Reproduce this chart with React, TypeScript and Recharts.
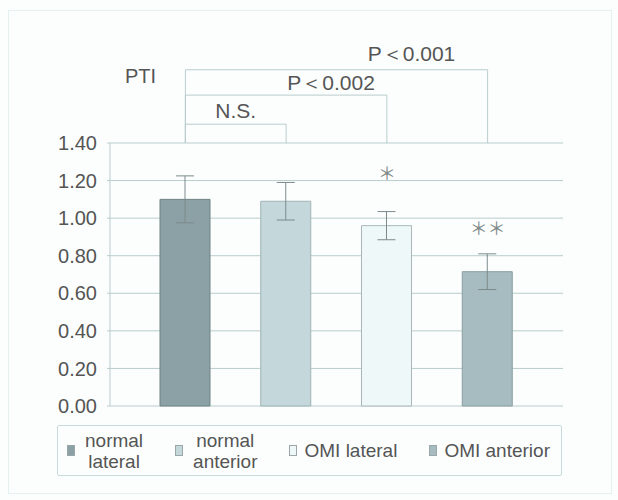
import React from 'react'
import { BarChart, Bar, XAxis, YAxis, CartesianGrid, ErrorBar, Cell, ReferenceLine, ReferenceDot } from 'recharts'

const CATEGORIES = ['normal lateral', 'normal anterior', 'OMI lateral', 'OMI anterior']
const LEGEND_LINES = [['normal', 'lateral'], ['normal', 'anterior'], ['OMI lateral'], ['OMI anterior']]
const PTI = [1.10, 1.09, 0.96, 0.715]
const SD = [0.125, 0.10, 0.075, 0.095]
const Y_TICKS = [0, 0.2, 0.4, 0.6, 0.8, 1.0, 1.2, 1.4]

const BRACKETS = [
  { from: 'normal lateral', to: 'normal anterior', y: 1.5, label: 'N.S.' },
  { from: 'normal lateral', to: 'OMI lateral', y: 1.655, label: 'P＜0.002' },
  { from: 'normal lateral', to: 'OMI anterior', y: 1.79, label: 'P＜0.001' },
]
const STARS = [
  { cat: 'OMI lateral', y: 1.246, text: '＊' },
  { cat: 'OMI anterior', y: 0.953, text: '＊＊' },
]

const FILLS = ['#8ca1a5', '#c4d8dc', '#eef8f9', '#a6bcc0']
const EDGES = ['#6f8284', '#9fb3b5', '#a9b7b8', '#8a9fa1']
const LABEL_OFFSETS = [{ dx: 0, dy: -6 }, { dx: 45, dy: -5 }, { dx: 75, dy: -9 }]
const LINE = '#b9cccc'
const TEXT = '#555'
const FONT = '"Liberation Sans", Arial, sans-serif'

const data = CATEGORIES.map((name, i) => ({ name, pti: PTI[i], sd: SD[i] }))

export default function App() {
  return (
    <div style={{ position: 'absolute', left: 0, top: 0, width: 618, height: 500, background: '#fcfefe', fontFamily: FONT }}>
      <div style={{ position: 'absolute', left: 8, top: 10, width: 602, height: 482, border: '1px solid #e4f1f1' }} />
      <div style={{ position: 'absolute', left: 125, top: 66, fontSize: 20, lineHeight: '20px', color: TEXT }}>PTI</div>
      <BarChart width={618} height={500} data={data} margin={{ top: 143, right: 55, bottom: 94, left: 0 }} style={{ position: 'absolute', left: 0, top: 0 }}>
        <CartesianGrid vertical={false} stroke={LINE} />
        <XAxis dataKey="name" hide padding={{ left: 25, right: 25 }} />
        <YAxis
          domain={[0, 1.4]}
          ticks={Y_TICKS}
          width={110}
          interval={0}
          tickFormatter={(v: number) => v.toFixed(2)}
          tick={{ fontSize: 20, fill: TEXT, fontFamily: FONT }}
          axisLine={{ stroke: LINE }}
          tickLine={{ stroke: LINE }}
          tickSize={3}
          tickMargin={10}
        />
        <YAxis yAxisId="r" orientation="right" domain={[0, 1.4]} width={0} tick={false} tickLine={false} axisLine={{ stroke: LINE }} />
        <Bar dataKey="pti" barSize={50} isAnimationActive={false}>
          {data.map((_, i) => <Cell key={i} fill={FILLS[i]} stroke={EDGES[i]} strokeWidth={1} />)}
          <ErrorBar dataKey="sd" width={9} stroke="#7d8a8b" strokeWidth={1} direction="y" />
        </Bar>
        {BRACKETS.map((b, i) => (
          <React.Fragment key={b.label}>
            <ReferenceLine segment={[{ x: b.from, y: 1.4 }, { x: b.from, y: b.y }]} stroke={LINE} ifOverflow="visible" />
            <ReferenceLine segment={[{ x: b.to, y: 1.4 }, { x: b.to, y: b.y }]} stroke={LINE} ifOverflow="visible" />
            <ReferenceLine
              segment={[{ x: b.from, y: b.y }, { x: b.to, y: b.y }]}
              stroke={LINE}
              ifOverflow="visible"
              label={(p: any) => {
                const vb = p.viewBox || {}
                return (
                  <text x={vb.x + vb.width / 2 + LABEL_OFFSETS[i].dx} y={vb.y + LABEL_OFFSETS[i].dy} textAnchor="middle" fontSize={21} fill={TEXT} fontFamily={FONT}>
                    {b.label}
                  </text>
                )
              }}
            />
          </React.Fragment>
        ))}
        {STARS.map(s => (
          <ReferenceDot
            key={s.cat}
            x={s.cat}
            y={s.y}
            r={0}
            fill="none"
            stroke="none"
            ifOverflow="visible"
            label={(p: any) => {
              const vb = p.viewBox || {}
              const cx = vb.x + (vb.width || 0) / 2
              const cy = vb.y + (vb.height || 0) / 2
              return (
                <text x={cx} y={cy} textAnchor="middle" dominantBaseline="central" fontSize={18} fill="#808a8a" fontFamily='"Noto Sans CJK JP"'>
                  {s.text}
                </text>
              )
            }}
          />
        ))}
      </BarChart>
      <div
        style={{
          position: 'absolute', left: 57, top: 425, width: 505, height: 51, boxSizing: 'border-box',
          border: '1px solid #c9dada', borderRadius: 2, display: 'flex', alignItems: 'center',
          justifyContent: 'space-between', padding: '0 11px 0 9px', fontSize: 19, color: TEXT,
        }}
      >
        {LEGEND_LINES.map((lines, i) => (
          <div key={i} style={{ display: 'flex', alignItems: 'center' }}>
            <span style={{ display: 'inline-block', width: 6, height: 9, background: FILLS[i], border: '1px solid #9aa6a7', marginRight: lines.length > 1 ? 10 : 7 }} />
            <span style={{ display: 'inline-block', textAlign: 'center', lineHeight: '21px' }}>
              {lines.map(l => <div key={l}>{l}</div>)}
            </span>
          </div>
        ))}
      </div>
    </div>
  )
}
